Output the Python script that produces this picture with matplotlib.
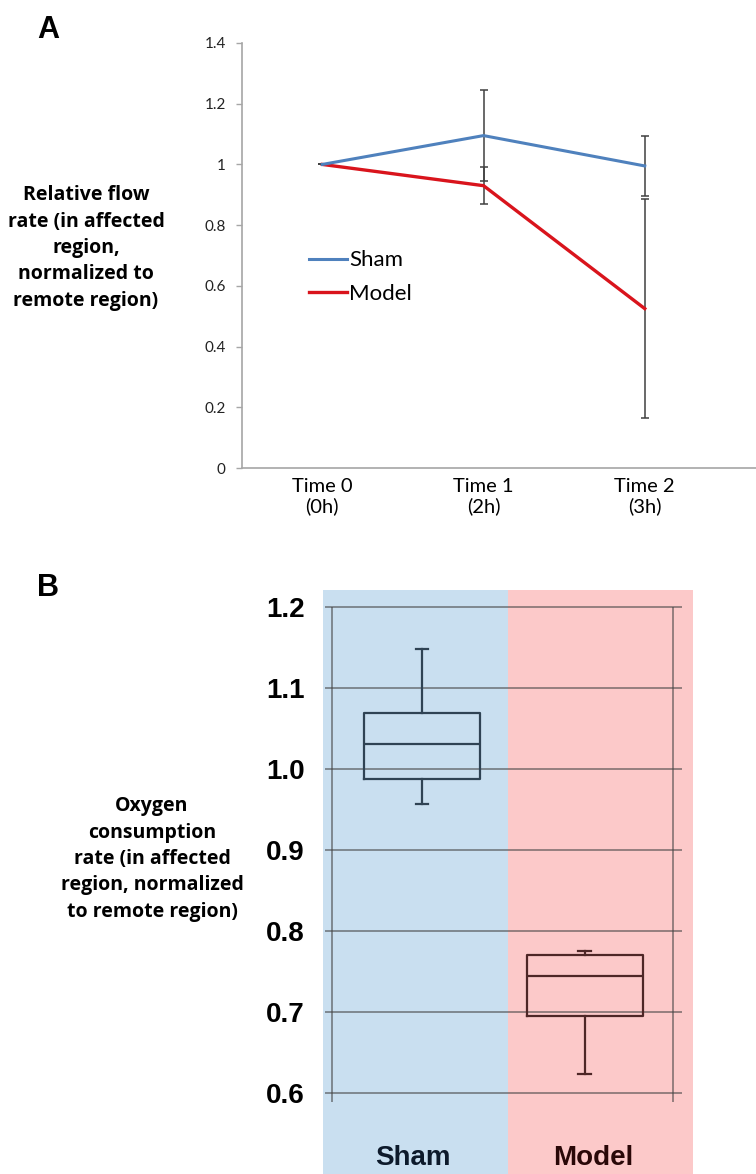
import numpy as np
import matplotlib
matplotlib.use("Agg")
import matplotlib.pyplot as plt

# panel A data
times = ["Time 0\n(0h)", "Time 1\n(2h)", "Time 2\n(3h)"]
sham_flow = [1.0, 1.095, 0.995]
sham_err = [0.0, 0.15, 0.10]
model_flow = [1.0, 0.93, 0.525]
model_err = [0.0, 0.06, 0.36]
flow_ticks = [0, 0.2, 0.4, 0.6, 0.8, 1, 1.2, 1.4]

# panel B data (box stats)
groups = ["Sham", "Model"]
q1 = [0.988, 0.695]
med = [1.031, 0.744]
q3 = [1.069, 0.770]
whislo = [0.957, 0.623]
whishi = [1.148, 0.775]
ocr_ticks = [0.6, 0.7, 0.8, 0.9, 1.0, 1.1, 1.2]

W, H = 756, 1174
fig = plt.figure(figsize=(W / 100, H / 100), dpi=100)

def fx(px):
    return px / W

def fy(py):
    return 1 - py / H

# ---------------- panel A ----------------
axA = fig.add_axes([fx(241.7), fy(468), fx(756 - 241.7), (468 - 43) / H])
x = np.arange(len(times)) + 0.5
axA.errorbar(x, sham_flow, yerr=sham_err, color="#4f81bd", lw=2.2,
             ecolor="#404040", elinewidth=1.1, capsize=3, capthick=1.1, label="Sham", zorder=3)
axA.errorbar(x, model_flow, yerr=model_err, color="#d9141c", lw=2.4,
             ecolor="#404040", elinewidth=1.1, capsize=3, capthick=1.1, label="Model", zorder=2)
axA.set_xlim(0, 3.19)
axA.set_ylim(0, 1.4)
axA.set_yticks(flow_ticks)
axA.set_yticklabels(["0", "0.2", "0.4", "0.6", "0.8", "1", "1.2", "1.4"],
                    fontsize=11, family="Lato", color="#222222")
axA.set_xticks(x)
axA.set_xticklabels(times, fontsize=14.5, family="Lato")
axA.tick_params(axis="x", length=0, pad=7)
axA.tick_params(axis="y", length=4.5, width=1, color="#a6a6a6", pad=7)
for s in ["top", "right"]:
    axA.spines[s].set_visible(False)
for s in ["left", "bottom"]:
    axA.spines[s].set_color("#a6a6a6")
    axA.spines[s].set_linewidth(1.2)

handles, labels = axA.get_legend_handles_labels()
leg = fig.legend([h[0] for h in handles], labels, loc="center left",
                 bbox_to_anchor=(fx(309), fy(277)), bbox_transform=fig.transFigure,
                 frameon=False, borderpad=0, borderaxespad=0, handlelength=1.7,
                 handletextpad=0.1, labelspacing=0.6, prop={"family": "Lato", "size": 16})

fig.text(fx(86), fy(248), "Relative flow\nrate (in affected\nregion,\nnormalized to\nremote region)",
         ha="center", va="center", fontsize=14, fontweight="bold", family="Open Sans",
         linespacing=1.42)
fig.text(fx(48), fy(30), "A", ha="center", va="center", fontsize=22,
         fontweight="bold", family="Liberation Sans")

# ---------------- panel B ----------------
axB = fig.add_axes([fx(323), 0, fx(693 - 323), (H - 590) / H])
axB.set_xlim(0, 2)
axB.set_ylim(0.5, 1.221)
axB.axvspan(0, 1, color="#c9dff0", lw=0, zorder=0)
axB.axvspan(1, 2, color="#fcc9c9", lw=0, zorder=0)
axB.hlines(ocr_ticks, 0.011, 1.941, color="#444444", alpha=0.6, lw=1.3, zorder=1)
axB.vlines([0.049, 1.892], 0.589, 1.2, color="#444444", alpha=0.6, lw=1.3, zorder=1)

box_pos = [0.535, 1.416]
box_cols = ["#2f4354", "#4e2626"]
for i in range(len(groups)):
    st = [{"med": med[i], "q1": q1[i], "q3": q3[i],
           "whislo": whislo[i], "whishi": whishi[i], "fliers": []}]
    c = box_cols[i]
    axB.bxp(st, positions=[box_pos[i]], widths=0.63, showfliers=False,
            capwidths=0.07, manage_ticks=False,
            boxprops=dict(color=c, lw=1.6), medianprops=dict(color=c, lw=1.6),
            whiskerprops=dict(color=c, lw=1.6), capprops=dict(color=c, lw=1.6))

axB.set_xticks([])
axB.set_yticks(ocr_ticks)
axB.set_yticklabels(["%.1f" % t for t in ocr_ticks], fontsize=20,
                    fontweight="bold", family="Liberation Sans")
axB.tick_params(axis="y", length=0, pad=13)
for s in axB.spines.values():
    s.set_visible(False)

lab_x = [0.486, 1.46]
lab_cols = ["#0d1a2b", "#2a0808"]
for i, g in enumerate(groups):
    axB.text(lab_x[i], 0.027, g, transform=axB.get_xaxis_transform(), ha="center",
             va="center", fontsize=20, fontweight="bold", family="Liberation Sans",
             color=lab_cols[i])

fig.text(fx(152), fy(859), "Oxygen\nconsumption\nrate (in affected\nregion, normalized\nto remote region)",
         ha="center", va="center", fontsize=14, fontweight="bold", family="Open Sans",
         linespacing=1.42)
fig.text(fx(48), fy(588), "B", ha="center", va="center", fontsize=22,
         fontweight="bold", family="Liberation Sans")

fig.savefig("out.png", dpi=100)
